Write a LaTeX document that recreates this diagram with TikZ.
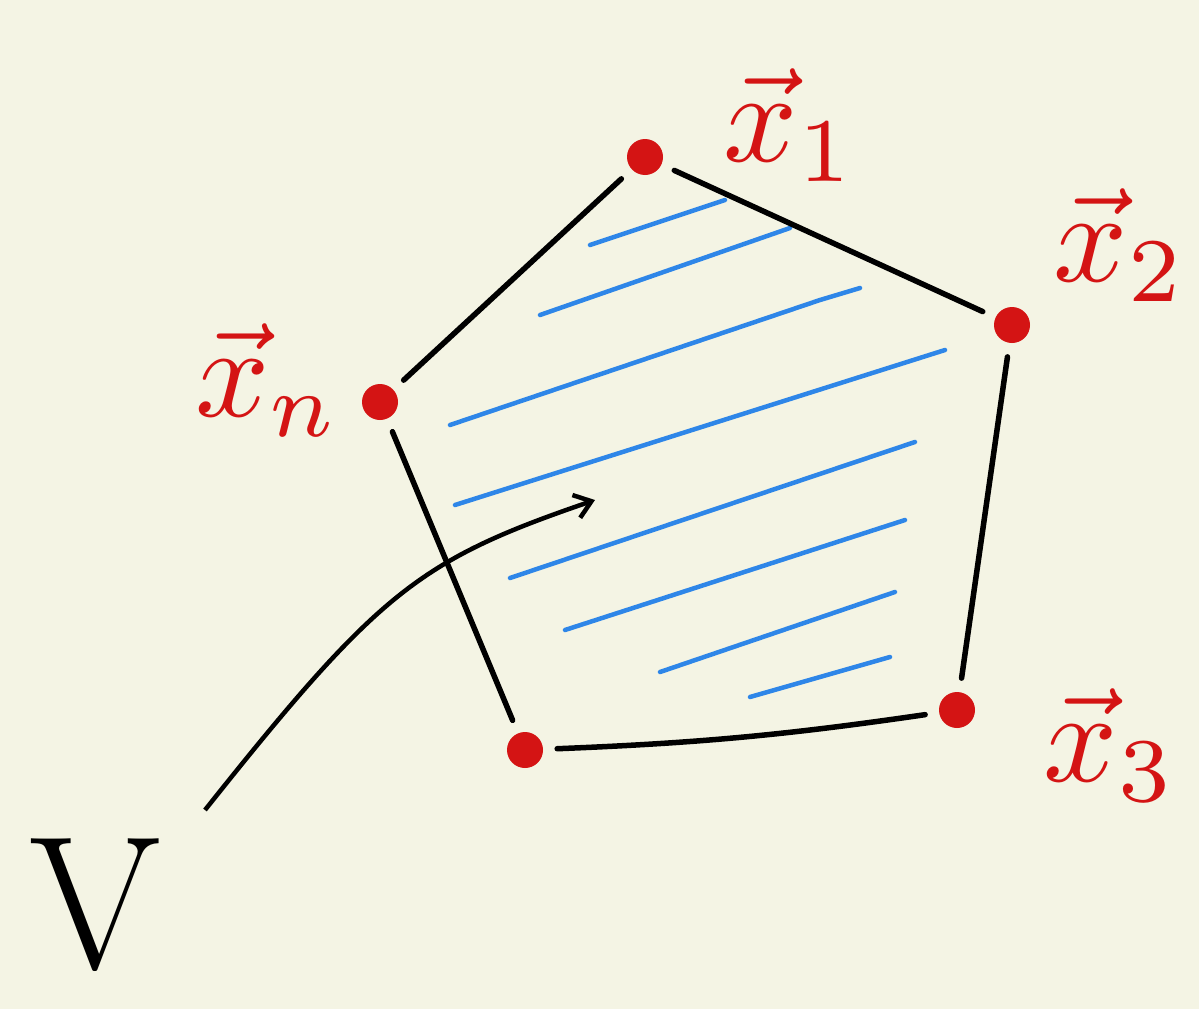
\documentclass[tikz,border=0pt]{standalone}
\usepackage{tikz}
\usetikzlibrary{arrows.meta}
\definecolor{paper}{HTML}{F4F4E4}
\definecolor{inkred}{HTML}{D41414}
\definecolor{inkblue}{HTML}{2E86E8}
\tikzset{
  vertexdot/.style={circle, fill=inkred, inner sep=0pt, minimum size=36pt},
  edgeline/.style={line width=5.5pt, line cap=round, shorten >=14pt, shorten <=14pt},
  hatchline/.style={inkblue, line width=4.5pt, line cap=round},
  veclabel/.style={inkred, scale=13},
}
\begin{document}
\begin{tikzpicture}[x=1pt,y=-1pt]
\fill[paper] (0,0) rectangle (1199,1009);
\useasboundingbox (0,0) rectangle (1199,1009);
% hatching
\draw[hatchline] (590,245) -- (725,200);
\draw[hatchline] (540,315) -- (790,228);
\draw[hatchline] (450,425) -- (820,300) -- (860,288);
\draw[hatchline] (455,505) -- (945,350);
\draw[hatchline] (510,578) -- (915,442);
\draw[hatchline] (565,630) -- (905,520);
\draw[hatchline] (660,672) -- (895,592);
\draw[hatchline] (750,697) -- (890,657);
% vertices
\node[vertexdot] (p1) at (645,157) {};
\node[vertexdot] (p2) at (1012,325) {};
\node[vertexdot] (p3) at (957,710) {};
\node[vertexdot] (p4) at (525,750) {};
\node[vertexdot] (pn) at (380,402) {};
% edges
\draw[edgeline] (p1) -- (p2);
\draw[edgeline] (p2) -- (p3);
\draw[edgeline] (p3) to[bend left=3] (p4);
\draw[edgeline] (p4) -- (pn);
\draw[edgeline] (pn) -- (p1);
% labels
\node[veclabel] (l1) at (790,125) {$\vec{x}_1$};
\node[veclabel] (l2) at (1120,245) {$\vec{x}_2$};
\node[veclabel] (l3) at (1110,745) {$\vec{x}_3$};
\node[veclabel] (ln) at (268,380) {$\vec{x}_n$};
% set name and pointer
\node[font=\fontsize{190}{190}\selectfont] (setV) at (95,905) {V};
\coordinate (tail) at (205,810);
\coordinate (tip) at (595,500);
\draw[line width=4.5pt, -{Straight Barb[length=16pt,width=24pt]}] (tail) .. controls (380,590) and (420,560) .. (tip);
\end{tikzpicture}
\end{document}
